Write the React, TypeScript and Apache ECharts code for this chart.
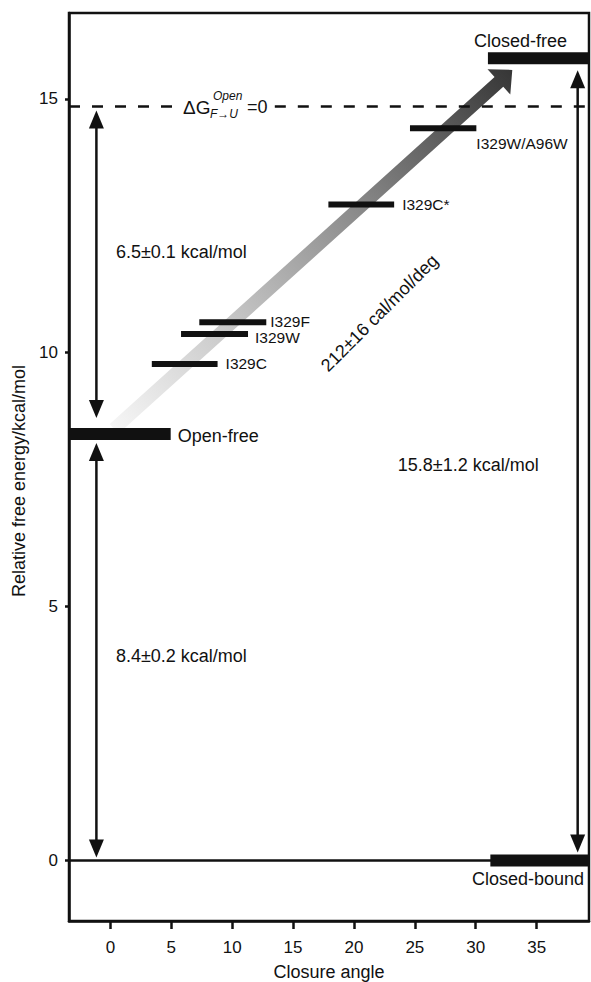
import React, { useEffect, useRef } from 'react';
import * as echarts from 'echarts';

// ---------- axis ranges & ticks ----------
const X_MIN = -3.4;
const X_MAX = 39.3;
const Y_MIN = -1.19;
const Y_MAX = 16.69;
const xTickValues = [0, 5, 10, 15, 20, 25, 30, 35];
const yTickValues = [0, 5, 10, 15];

// ---------- states (thick levels) ----------
const stateNames = ['Open-free', 'Closed-free', 'Closed-bound'];
const stateEnergy = [8.4, 15.8, 0];
const stateAngleFrom = [-3.4, 31.0, 31.2];
const stateAngleTo = [4.95, 39.3, 39.3];

// ---------- mutants (thin levels) ----------
const mutantNames = ['I329C', 'I329W', 'I329F', 'I329C*', 'I329W/A96W'];
const mutantEnergy = [9.78, 10.37, 10.6, 12.92, 14.42];
const mutantAngleFrom = [3.4, 5.8, 7.3, 17.9, 24.6];
const mutantAngleTo = [8.8, 11.3, 12.8, 23.3, 30.05];

// ---------- reference lines ----------
const baselineEnergy = 0;
const unfoldedEnergy = 14.85; // ΔG(F→U, Open) = 0
const unfoldedGap = [5.3, 13.5]; // angle range where the dashed line is interrupted by its label

// ---------- energy gaps (double arrows) ----------
const gapLabels = ['6.5±0.1 kcal/mol', '8.4±0.2 kcal/mol', '15.8±1.2 kcal/mol'];
const gapAngle = [-1.15, -1.15, 38.37];
const gapFrom = [14.85, 8.4, 15.8];
const gapTo = [8.4, 0, 0];
const gapLabelAngle = [0.45, 0.45, 23.6];
const gapLabelEnergy = [11.98, 4.03, 7.79];

// ---------- slope arrow ----------
const slopeLabel = '212±16 cal/mol/deg';
const slopeStart = [0.3, 8.5];
const slopeEnd = [33.0, 15.57];
const slopeLabelPos = [22.1, 10.78];

// ---------- styles (pixels) ----------
const FONT = "'Liberation Sans', Arial, Helvetica, sans-serif";
const INK = '#111';
const stateLabelStyle = [
  { dx: 7, dy: 2, align: 'left' },
  { dx: -22, dy: -17, align: 'right' },
  { dx: -5, dy: 18, align: 'right' },
];
const mutantLabelDx = [8, 7, 4, 8, 0];
const mutantLabelDy = [0, 4, -1, 0, 15];
const gapInsetTop = [4, 9, 12];
const gapInsetBottom = [16, 3, 8];

function buildOption() {
  const levelSeries = (
    data: number[][],
    width: number,
    dash: number[] | null,
    z: number,
  ) => ({
    type: 'custom',
    coordinateSystem: 'cartesian2d',
    silent: true,
    z,
    data,
    encode: { x: [0, 1], y: 2 },
    renderItem: (_p: any, api: any) => {
      const a = api.coord([api.value(0), api.value(2)]);
      const b = api.coord([api.value(1), api.value(2)]);
      return {
        type: 'line',
        shape: { x1: a[0], y1: a[1], x2: b[0], y2: b[1] },
        style: { stroke: INK, lineWidth: width, lineDash: dash || undefined },
      };
    },
  });

  const slopeStops = [
    { offset: 0, color: '#f6f6f6' },
    { offset: 0.3, color: '#c6c6c6' },
    { offset: 0.6, color: '#8c8c8c' },
    { offset: 1, color: '#363636' },
  ];

  const series: any[] = [
    // gradient slope arrow
    {
      type: 'custom',
      coordinateSystem: 'cartesian2d',
      silent: true,
      z: 1,
      data: [[slopeStart[0], slopeStart[1], slopeEnd[0], slopeEnd[1]]],
      encode: { x: [0, 2], y: [1, 3] },
      renderItem: (_p: any, api: any) => {
        const s = api.coord([api.value(0), api.value(1)]);
        const e = api.coord([api.value(2), api.value(3)]);
        const dx = e[0] - s[0];
        const dy = e[1] - s[1];
        const len = Math.hypot(dx, dy);
        const ux = dx / len;
        const uy = dy / len;
        const nx = -uy;
        const ny = ux;
        const hw = 6.5;
        const headLen = 18;
        const headHw = 17;
        const bx = e[0] - ux * headLen;
        const by = e[1] - uy * headLen;
        const points = [
          [s[0] + nx * hw, s[1] + ny * hw],
          [bx + nx * hw, by + ny * hw],
          [bx + nx * headHw, by + ny * headHw],
          [e[0], e[1]],
          [bx - nx * headHw, by - ny * headHw],
          [bx - nx * hw, by - ny * hw],
          [s[0] - nx * hw, s[1] - ny * hw],
        ];
        return {
          type: 'polygon',
          shape: { points },
          style: {
            fill: new echarts.graphic.LinearGradient(s[0], s[1], e[0], e[1], slopeStops, true),
          },
        };
      },
    },
    // baseline
    levelSeries([[X_MIN, X_MAX, baselineEnergy]], 2.5, null, 3),
    // dashed unfolded reference
    levelSeries(
      [
        [X_MIN, unfoldedGap[0], unfoldedEnergy],
        [unfoldedGap[1], X_MAX, unfoldedEnergy],
      ],
      2.5,
      [11, 12],
      3,
    ),
    // ΔG label
    {
      type: 'custom',
      coordinateSystem: 'cartesian2d',
      silent: true,
      z: 4,
      data: [[unfoldedGap[0], unfoldedEnergy]],
      renderItem: (_p: any, api: any) => {
        const a = api.coord([api.value(0), api.value(1)]);
        const t = (text: string, dx: number, dy: number, size: number, italic: boolean) => ({
          type: 'text',
          x: a[0] + dx,
          y: a[1] + dy,
          style: {
            text,
            fill: INK,
            fontSize: size,
            fontFamily: FONT,
            fontStyle: italic ? 'italic' : 'normal',
            align: 'left',
            verticalAlign: 'middle',
          },
        });
        return {
          type: 'group',
          children: [
            t('ΔG', 8, 1, 19, false),
            t('Open', 38, -10, 12, true),
            t('F→U', 35, 8, 12, true),
            t('=0', 72, 1, 18, false),
          ],
        };
      },
    },
    // mutant levels
    {
      type: 'custom',
      coordinateSystem: 'cartesian2d',
      silent: true,
      z: 5,
      data: mutantNames.map((_, i) => [mutantAngleFrom[i], mutantAngleTo[i], mutantEnergy[i]]),
      encode: { x: [0, 1], y: 2 },
      renderItem: (p: any, api: any) => {
        const i = p.dataIndex;
        const a = api.coord([api.value(0), api.value(2)]);
        const b = api.coord([api.value(1), api.value(2)]);
        return {
          type: 'group',
          children: [
            {
              type: 'line',
              shape: { x1: a[0], y1: a[1], x2: b[0], y2: b[1] },
              style: { stroke: INK, lineWidth: 6 },
            },
            {
              type: 'text',
              x: b[0] + mutantLabelDx[i],
              y: b[1] + mutantLabelDy[i],
              style: {
                text: mutantNames[i],
                fill: INK,
                fontSize: 15.5,
                fontFamily: FONT,
                align: 'left',
                verticalAlign: 'middle',
              },
            },
          ],
        };
      },
    },
    // state levels
    {
      type: 'custom',
      coordinateSystem: 'cartesian2d',
      silent: true,
      z: 6,
      data: stateNames.map((_, i) => [stateAngleFrom[i], stateAngleTo[i], stateEnergy[i]]),
      encode: { x: [0, 1], y: 2 },
      renderItem: (p: any, api: any) => {
        const i = p.dataIndex;
        const a = api.coord([api.value(0), api.value(2)]);
        const b = api.coord([api.value(1), api.value(2)]);
        const ls = stateLabelStyle[i];
        return {
          type: 'group',
          children: [
            {
              type: 'line',
              shape: { x1: a[0], y1: a[1], x2: b[0], y2: b[1] },
              style: { stroke: INK, lineWidth: 12 },
            },
            {
              type: 'text',
              x: b[0] + ls.dx,
              y: b[1] + ls.dy,
              style: {
                text: stateNames[i],
                fill: INK,
                fontSize: 18,
                fontFamily: FONT,
                align: ls.align,
                verticalAlign: 'middle',
              },
            },
          ],
        };
      },
    },
    // double-headed gap arrows
    {
      type: 'custom',
      coordinateSystem: 'cartesian2d',
      silent: true,
      z: 7,
      data: gapLabels.map((_, i) => [gapAngle[i], gapFrom[i], gapTo[i]]),
      encode: { x: 0, y: [1, 2] },
      renderItem: (p: any, api: any) => {
        const i = p.dataIndex;
        const a = api.coord([api.value(0), api.value(1)]);
        const b = api.coord([api.value(0), api.value(2)]);
        const x = a[0];
        const top = a[1] + gapInsetTop[i];
        const bot = b[1] - gapInsetBottom[i];
        const hl = 18;
        const hw = 7.5;
        return {
          type: 'group',
          children: [
            {
              type: 'line',
              shape: { x1: x, y1: top + hl - 2, x2: x, y2: bot - hl + 2 },
              style: { stroke: INK, lineWidth: 2.5 },
            },
            {
              type: 'polygon',
              shape: { points: [[x, top], [x - hw, top + hl], [x + hw, top + hl]] },
              style: { fill: INK },
            },
            {
              type: 'polygon',
              shape: { points: [[x, bot], [x - hw, bot - hl], [x + hw, bot - hl]] },
              style: { fill: INK },
            },
          ],
        };
      },
    },
    // gap labels
    {
      type: 'custom',
      coordinateSystem: 'cartesian2d',
      silent: true,
      z: 8,
      data: gapLabels.map((_, i) => [gapLabelAngle[i], gapLabelEnergy[i]]),
      renderItem: (p: any, api: any) => {
        const a = api.coord([api.value(0), api.value(1)]);
        return {
          type: 'text',
          x: a[0],
          y: a[1],
          style: {
            text: gapLabels[p.dataIndex],
            fill: INK,
            fontSize: 18,
            fontFamily: FONT,
            align: 'left',
            verticalAlign: 'middle',
          },
        };
      },
    },
    // slope label
    {
      type: 'custom',
      coordinateSystem: 'cartesian2d',
      silent: true,
      z: 8,
      data: [[slopeLabelPos[0], slopeLabelPos[1]]],
      renderItem: (_p: any, api: any) => {
        const a = api.coord([api.value(0), api.value(1)]);
        return {
          type: 'text',
          x: a[0],
          y: a[1],
          rotation: Math.PI / 4,
          style: {
            text: slopeLabel,
            fill: INK,
            fontSize: 18,
            fontFamily: FONT,
            align: 'center',
            verticalAlign: 'middle',
          },
        };
      },
    },
  ];

  return {
    animation: false,
    backgroundColor: '#fff',
    grid: {
      left: 69,
      right: 2,
      top: 13,
      bottom: 61,
      show: true,
      borderColor: INK,
      borderWidth: 2.5,
      backgroundColor: 'transparent',
      containLabel: false,
      outerBoundsMode: 'none',
    },
    xAxis: {
      type: 'value',
      min: X_MIN,
      max: X_MAX,
      name: 'Closure angle',
      nameLocation: 'middle',
      nameGap: 42,
      nameTextStyle: { fontSize: 18, color: INK, fontFamily: FONT },
      axisLine: { show: true, onZero: false, lineStyle: { color: INK, width: 2.5 } },
      axisTick: {
        show: true,
        inside: false,
        length: 8,
        customValues: xTickValues,
        lineStyle: { color: INK, width: 2.5 },
      },
      axisLabel: {
        customValues: xTickValues,
        fontSize: 17,
        color: INK,
        fontFamily: FONT,
        margin: 18,
      },
      splitLine: { show: false },
    },
    yAxis: {
      type: 'value',
      min: Y_MIN,
      max: Y_MAX,
      name: 'Relative free energy/kcal/mol',
      nameLocation: 'middle',
      nameGap: 38,
      nameTextStyle: { fontSize: 18, color: INK, fontFamily: FONT, padding: [0, 28, 0, 0] },
      axisLine: { show: true, onZero: false, lineStyle: { color: INK, width: 2.5 } },
      axisTick: {
        show: true,
        inside: false,
        length: 4,
        customValues: yTickValues,
        lineStyle: { color: INK, width: 2.5 },
      },
      axisLabel: {
        customValues: yTickValues,
        fontSize: 17,
        color: INK,
        fontFamily: FONT,
        margin: 11,
      },
      splitLine: { show: false },
    },
    series,
  };
}

export default function App() {
  const ref = useRef<HTMLDivElement>(null);
  useEffect(() => {
    document.body.style.margin = '0';
    const chart = echarts.init(ref.current!, null, { renderer: 'svg' });
    chart.setOption(buildOption() as any);
    return () => chart.dispose();
  }, []);
  return (
    <div
      ref={ref}
      style={{ position: 'absolute', left: 0, top: 0, width: 591, height: 982 }}
    />
  );
}
